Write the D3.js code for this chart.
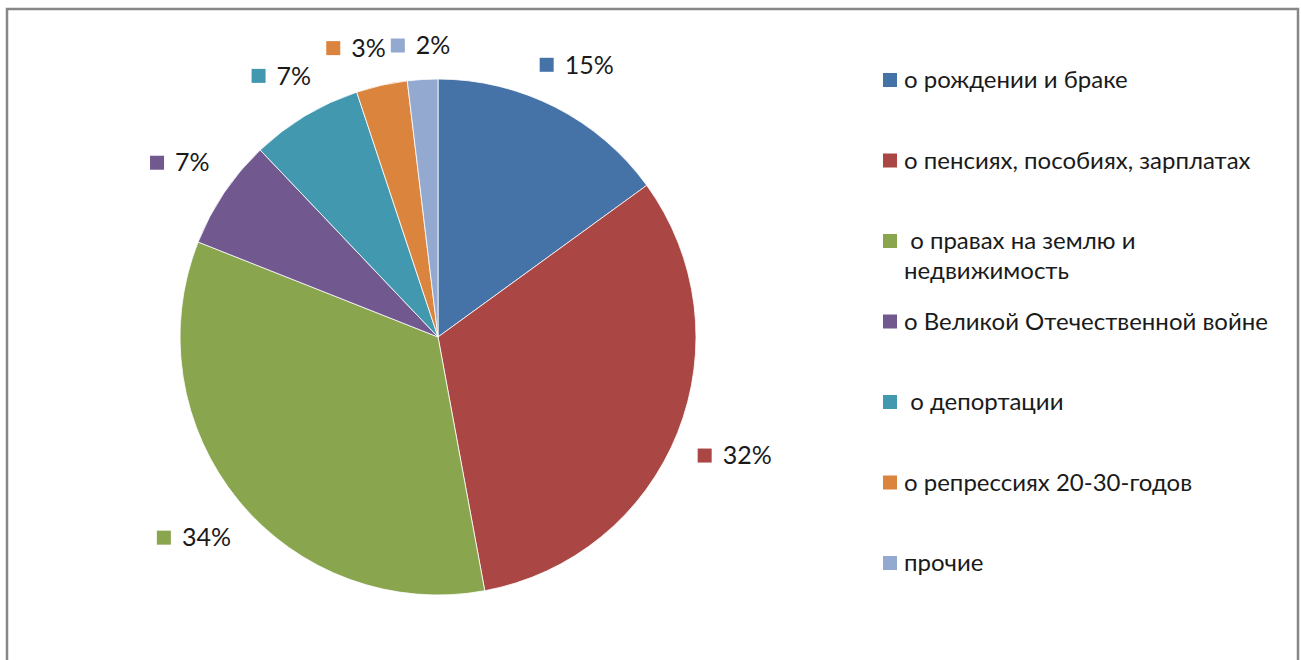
<!DOCTYPE html>
<html>
<head>
<meta charset="utf-8">
<script src="https://cdn.jsdelivr.net/npm/d3@7"></script>
<style>
  body { margin: 0; background: #fff; }
  svg { display: block; }
  text { font-family: Lato, "Open Sans", sans-serif; font-weight: 400; fill: #1a1a1a; white-space: pre; }
</style>
</head>
<body>
<svg width="1301" height="660"></svg>
<script>
const width = 1301, height = 660;
const svg = d3.select("svg");

// categories (legend order = slice order, clockwise from 12 o'clock)
const categories = [
  "о рождении и браке",
  "о пенсиях, пособиях, зарплатах",
  " о правах на землю и\nнедвижимость",
  "о Великой Отечественной войне",
  " о депортации",
  "о репрессиях 20-30-годов",
  "прочие"
];
// shares in %
const values = [15.0, 32.1, 33.9, 6.9, 7.0, 3.2, 1.9];
const colors = ["#4572A7", "#AA4643", "#89A54E", "#71588F", "#4198AF", "#DB843D", "#93A9CF"];

const data = categories.map((c, i) => ({ name: c, value: values[i], color: colors[i] }));
const total = d3.sum(values);
const fmt = d3.format(".0%");

// frame
svg.append("rect")
  .attr("x", 7).attr("y", 9)
  .attr("width", 1291).attr("height", 720)
  .attr("fill", "none")
  .attr("stroke", "#878787")
  .attr("stroke-width", 2.5);

const cx = 438, cy = 337, radius = 258;

const pie = d3.pie().sort(null).value(d => d.value);
const arc = d3.arc().innerRadius(0).outerRadius(radius);
const arcs = pie(data);

const g = svg.append("g").attr("transform", `translate(${cx},${cy})`);

g.selectAll("path.slice")
  .data(arcs)
  .enter()
  .append("path")
  .attr("class", "slice")
  .attr("d", arc)
  .attr("fill", d => d.data.color)
  .attr("stroke", "#fff")
  .attr("stroke-width", 0.8);

// data labels: marker + percent, pushed out until the box clears the pie
const labelSize = 25, legendSize = 24, mark = 14, gap = 11, boxH = 20, clearR = 281;

const labels = g.selectAll("g.lbl")
  .data(arcs)
  .enter()
  .append("g")
  .attr("class", "lbl");

labels.append("text")
  .attr("font-size", labelSize)
  .attr("dy", "0.35em")
  .text(d => fmt(d.data.value / total));

const boxes = [];
labels.each(function (d) {
  const tw = d3.select(this).select("text").node().getComputedTextLength();
  const w = mark + gap + tw;
  const a = (d.startAngle + d.endAngle) / 2;
  let bx = 0, by = 0;
  for (let t = radius; t < radius + 300; t += 0.5) {
    bx = t * Math.sin(a);
    by = -t * Math.cos(a);
    const nx = Math.max(bx - w / 2, Math.min(0, bx + w / 2));
    const ny = Math.max(by - boxH / 2, Math.min(0, by + boxH / 2));
    if (Math.hypot(nx, ny) >= clearR) break;
  }
  boxes.push({ x0: bx - w / 2, x1: bx + w / 2, y: by, left: a > Math.PI });
});

// push overlapping left-side labels apart (later one stays, earlier moves left)
for (let i = boxes.length - 1; i > 0; i--) {
  const b = boxes[i], p = boxes[i - 1];
  if (!p.left) continue;
  if (Math.abs(p.y - b.y) < boxH && p.x1 + 5 > b.x0) {
    const shift = p.x1 + 5 - b.x0;
    p.x0 -= shift; p.x1 -= shift;
  }
}

labels.each(function (d, i) {
  const sel = d3.select(this), b = boxes[i];
  sel.insert("rect", "text")
    .attr("x", b.x0).attr("y", b.y - mark / 2)
    .attr("width", mark).attr("height", mark)
    .attr("fill", d.data.color);
  sel.select("text").attr("x", b.x0 + mark + gap).attr("y", b.y);
});

// legend
const ly = d3.scalePoint()
  .domain(categories)
  .range([80, 563]);

const legend = svg.append("g").attr("transform", "translate(883,0)");

const items = legend.selectAll("g.item")
  .data(data)
  .enter()
  .append("g")
  .attr("class", "item")
  .attr("transform", d => `translate(0,${ly(d.name)})`);

items.append("rect")
  .attr("x", 0).attr("y", -mark / 2)
  .attr("width", mark).attr("height", mark)
  .attr("fill", d => d.color);

items.append("text")
  .attr("font-size", legendSize)
  .attr("x", 21)
  .attr("y", 0)
  .each(function (d) {
    const lines = d.name.split("\n");
    d3.select(this).selectAll("tspan")
      .data(lines)
      .enter()
      .append("tspan")
      .attr("x", 21)
      .attr("dy", (l, i) => i === 0 ? "0.35em" : "1.25em")
      .text(l => l);
  });
</script>
</body>
</html>
